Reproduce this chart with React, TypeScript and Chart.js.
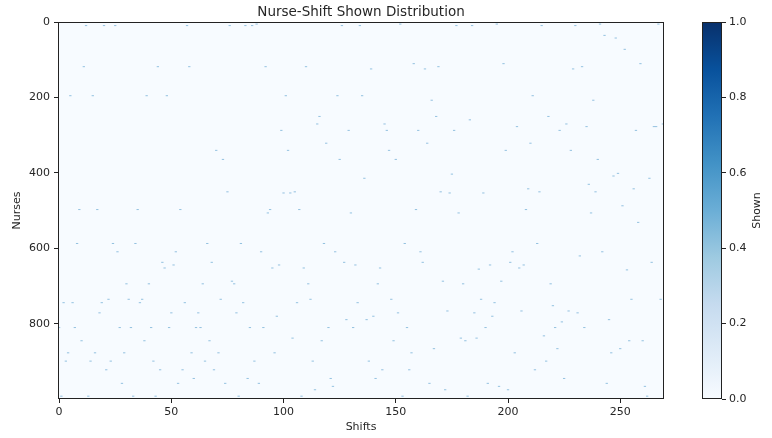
import React, { useEffect, useRef } from "react";
import { Chart, registerables } from "chart.js";

Chart.register(...registerables);

// Nurse index that is "shown" (value 1) for each shift 0..269; all other cells are 0
const shownNurse: number[] = [
  810, 992, 744, 899, 877, 195, 744, 810, 587, 497,
  845, 118, 9, 992, 899, 195, 877, 497, 771, 744,
  9, 922, 735, 899, 587, 9, 609, 810, 958, 877,
  694, 735, 810, 992, 587, 497, 744, 735, 845, 195,
  694, 810, 899, 992, 118, 922, 637, 652, 195, 810,
  771, 644, 609, 958, 497, 922, 744, 9, 118, 877,
  945, 810, 771, 810, 694, 899, 587, 845, 637, 922,
  340, 877, 735, 364, 958, 450, 9, 687, 694, 771,
  992, 587, 744, 9, 945, 810, 9, 899, 5, 958,
  609, 810, 118, 506, 497, 652, 877, 780, 644, 287,
  453, 195, 340, 453, 838, 450, 744, 497, 992, 652,
  118, 694, 735, 899, 975, 270, 250, 845, 587, 321,
  810, 945, 966, 609, 195, 364, 9, 637, 789, 287,
  506, 810, 644, 744, 9, 195, 414, 789, 899, 124,
  780, 945, 694, 652, 922, 270, 287, 340, 735, 845,
  364, 771, 5, 992, 587, 810, 922, 877, 110, 497,
  287, 609, 637, 124, 321, 958, 207, 866, 250, 118,
  450, 687, 975, 766, 453, 403, 287, 9, 506, 838,
  694, 845, 992, 259, 9, 771, 838, 655, 735, 453,
  810, 958, 644, 780, 744, 5, 966, 687, 110, 340,
  975, 637, 609, 877, 277, 652, 766, 644, 497, 442,
  321, 195, 922, 587, 450, 9, 832, 899, 250, 694,
  752, 810, 866, 287, 795, 945, 270, 766, 340, 124,
  9, 771, 620, 118, 810, 277, 430, 506, 207, 450,
  364, 5, 609, 35, 958, 789, 877, 408, 42, 401,
  866, 487, 72, 657, 845, 735, 442, 287, 531, 110,
  845, 966, 992, 414, 637, 277, 277, 5, 735, 270,
];

const nShifts = 270;
const nNurses = 1000;
const xTicks = [0, 50, 100, 150, 200, 250];
const yTicks = [0, 200, 400, 600, 800];
const cbTicks = [0, 0.2, 0.4, 0.6, 0.8, 1.0];
const bluesStops = [
  "#f7fbff", "#deebf7", "#c6dbef", "#9ecae1", "#6baed6",
  "#4292c6", "#2171b5", "#08519c", "#08306b",
];
const titleText = "Nurse-Shift Shown Distribution";

const FONT = "'DejaVu Sans', sans-serif";
const TEXT = "#262626";
const AXIS = "#222222";

function frame(chart: any) {
  const { ctx, chartArea: a } = chart;
  ctx.save();
  ctx.strokeStyle = AXIS;
  ctx.lineWidth = 1;
  ctx.strokeRect(Math.round(a.left) + 0.5, Math.round(a.top) + 0.5,
    Math.round(a.right - a.left) - 1, Math.round(a.bottom - a.top) - 1);
  ctx.restore();
}

export default function App() {
  const mainRef = useRef<HTMLCanvasElement | null>(null);
  const cbRef = useRef<HTMLCanvasElement | null>(null);

  useEffect(() => {
    if (!mainRef.current || !cbRef.current) return;

    const bgPlugin = {
      id: "heatBg",
      beforeDatasetsDraw(chart: any) {
        const { ctx, chartArea: a } = chart;
        ctx.save();
        ctx.fillStyle = bluesStops[0];
        ctx.fillRect(a.left, a.top, a.right - a.left, a.bottom - a.top);
        ctx.restore();
      },
      afterDraw(chart: any) {
        frame(chart);
        const { ctx, chartArea: a } = chart;
        ctx.save();
        ctx.fillStyle = TEXT;
        ctx.font = `13.5px ${FONT}`;
        ctx.textAlign = "center";
        ctx.textBaseline = "alphabetic";
        ctx.fillText(titleText, (a.left + a.right) / 2, 16);
        ctx.restore();
      },
    };

    const main = new Chart(mainRef.current, {
      type: "scatter",
      data: {
        datasets: [
          {
            data: shownNurse.map((n, i) => ({ x: i, y: n })),
            pointStyle: "line",
            radius: 1.15,
            hoverRadius: 1.15,
            borderWidth: 1,
            borderColor: "rgba(66,146,198,0.55)",
            backgroundColor: "rgba(66,146,198,0.55)",
          },
        ],
      },
      options: {
        responsive: false,
        animation: false,
        devicePixelRatio: 1,
        layout: { padding: { left: 0, right: 58, top: 22, bottom: 0 } },
        plugins: {
          legend: { display: false },
          tooltip: { enabled: false },
          title: { display: false },
        },
        scales: {
          x: {
            type: "linear",
            min: -0.5,
            max: nShifts - 0.5,
            afterBuildTicks: (s: any) => { s.ticks = xTicks.map((v) => ({ value: v })); },
            afterFit: (s: any) => { s.height = 39; },
            ticks: { color: TEXT, font: { family: FONT, size: 11 }, padding: 3, maxRotation: 0, autoSkip: false },
            grid: { drawOnChartArea: false, drawTicks: true, tickLength: 4, color: AXIS },
            border: { display: false },
            title: { display: true, text: "Shifts", color: TEXT, font: { family: FONT, size: 11 }, padding: { bottom: 4 } },
          },
          y: {
            type: "linear",
            reverse: true,
            min: -0.5,
            max: nNurses - 0.5,
            afterBuildTicks: (s: any) => { s.ticks = yTicks.map((v) => ({ value: v })); },
            afterFit: (s: any) => { s.width = 58; },
            ticks: { color: TEXT, font: { family: FONT, size: 11 }, padding: 4, autoSkip: false },
            grid: { drawOnChartArea: false, drawTicks: true, tickLength: 4, color: AXIS },
            border: { display: false },
            title: { display: true, text: "Nurses", color: TEXT, font: { family: FONT, size: 11 }, padding: { top: 11 } },
          },
        },
      },
      plugins: [bgPlugin],
    } as any);

    const cbPlugin = {
      id: "colorbar",
      beforeDatasetsDraw(chart: any) {
        const { ctx, chartArea: a } = chart;
        const ys = chart.scales.y;
        const g = ctx.createLinearGradient(0, ys.getPixelForValue(0), 0, ys.getPixelForValue(1));
        bluesStops.forEach((c, i) => g.addColorStop(i / (bluesStops.length - 1), c));
        ctx.save();
        ctx.fillStyle = g;
        ctx.fillRect(a.left, a.top, a.right - a.left, a.bottom - a.top);
        ctx.restore();
      },
      afterDraw(chart: any) {
        frame(chart);
        const { ctx, chartArea: a } = chart;
        ctx.save();
        ctx.translate(67, (a.top + a.bottom) / 2);
        ctx.rotate(-Math.PI / 2);
        ctx.fillStyle = TEXT;
        ctx.font = `11px ${FONT}`;
        ctx.textAlign = "center";
        ctx.textBaseline = "middle";
        ctx.fillText("Shown", 0, 0);
        ctx.restore();
      },
    };

    const cb = new Chart(cbRef.current, {
      type: "scatter",
      data: { datasets: [{ data: [] }] },
      options: {
        responsive: false,
        animation: false,
        devicePixelRatio: 1,
        layout: { padding: { left: 12, right: 0, top: 22, bottom: 39 } },
        plugins: { legend: { display: false }, tooltip: { enabled: false } },
        scales: {
          x: { type: "linear", display: false, min: 0, max: 1 },
          y: {
            type: "linear",
            position: "right",
            min: 0,
            max: 1,
            afterBuildTicks: (s: any) => { s.ticks = cbTicks.map((v) => ({ value: v })); },
            afterFit: (s: any) => { s.width = 50; },
            ticks: {
              color: TEXT,
              font: { family: FONT, size: 11 },
              padding: 3,
              callback: (v: any) => Number(v).toFixed(1),
            },
            grid: { drawOnChartArea: false, drawTicks: true, tickLength: 4, color: AXIS },
            border: { display: false },
          },
        },
      },
      plugins: [cbPlugin],
    } as any);

    return () => {
      main.destroy();
      cb.destroy();
    };
  }, []);

  return (
    <div style={{ position: "fixed", left: 0, top: 0, width: 772, height: 438, background: "#ffffff" }}>
      <canvas ref={mainRef} width={722} height={438} style={{ position: "absolute", left: 0, top: 0, display: "block" }} />
      <canvas ref={cbRef} width={82} height={438} style={{ position: "absolute", left: 690, top: 0, display: "block" }} />
    </div>
  );
}
